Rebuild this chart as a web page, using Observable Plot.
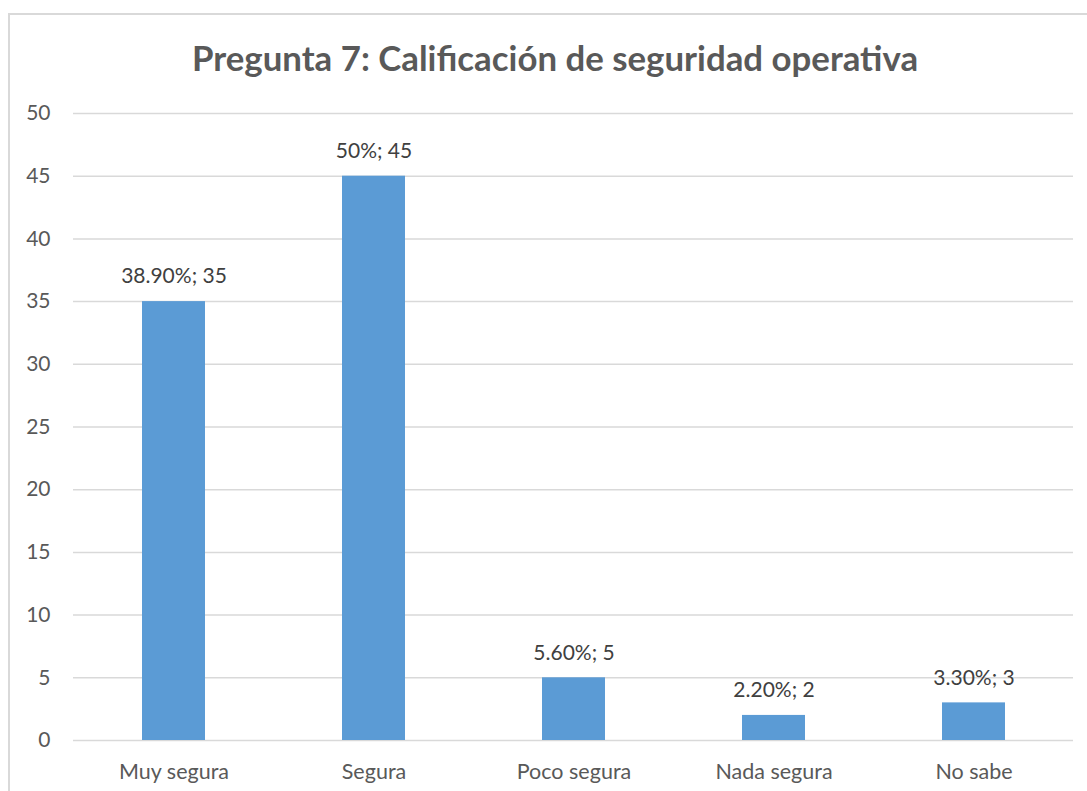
<!DOCTYPE html>
<html><head><meta charset="utf-8">
<script src="https://cdn.jsdelivr.net/npm/d3@7"></script>
<script src="https://cdn.jsdelivr.net/npm/@observablehq/plot@0.6"></script>
<style>
html,body{margin:0;padding:0;background:#fff;font-family:Lato,"Open Sans",sans-serif;}
#frame{position:absolute;left:8px;top:13px;width:1100px;height:800px;border-left:2px solid #d9d9d9;border-top:2px solid #d9d9d9;box-sizing:border-box;}
#title{position:absolute;left:0;top:38px;width:1110px;text-align:center;font-weight:bold;color:#595959;line-height:40px;white-space:nowrap;}
#chart{position:absolute;left:0;top:90px;}
</style>
</head><body>
<div id="frame"></div>
<div id="title">Pregunta 7: Calificación de seguridad operativa</div>
<div id="chart"></div>
<script>
const categories = ["Muy segura", "Segura", "Poco segura", "Nada segura", "No sabe"];
const counts = [35, 45, 5, 2, 3];
const percents = ["38.90%", "50%", "5.60%", "2.20%", "3.30%"];
const yTicks = [0, 5, 10, 15, 20, 25, 30, 35, 40, 45, 50];
const titleText = "Pregunta 7: Calificación de seguridad operativa";

const data = categories.map((c, i) => ({cat: c, n: counts[i], label: `${percents[i]}; ${counts[i]}`}));

// fit title width
const cv = document.createElement("canvas").getContext("2d");
cv.font = "bold 100px Lato";
const tw = cv.measureText(titleText).width;
const tsize = 100 * 726 / tw;
const titleEl = document.getElementById("title");
titleEl.style.fontSize = tsize.toFixed(1) + "px";

const chart = Plot.plot({
  width: 1087, height: 701,
  marginTop: 23, marginBottom: 51, marginLeft: 73, marginRight: 14,
  style: {fontFamily: "Lato, sans-serif", fontSize: "21px", color: "#595959", background: "transparent"},
  x: {domain: categories, paddingInner: 0.685, paddingOuter: 0.3425, label: null},
  y: {domain: [0, 50], ticks: yTicks, label: null},
  marks: [
    Plot.gridY(yTicks, {stroke: "#d9d9d9", strokeOpacity: 1, strokeWidth: 1.5}),
    Plot.axisY(yTicks, {tickSize: 0, tickPadding: 23, label: null, fontSize: 21, fill: "#595959"}),
    Plot.axisX({tickSize: 0, tickPadding: 23, label: null, fontSize: 21.5, fill: "#595959"}),
    Plot.barY(data, {x: "cat", y: "n", fill: "#5B9BD5"}),
    Plot.text(data, {x: "cat", y: "n", text: "label", dy: -25, fill: "#404040", fontSize: 21})
  ]
});
document.getElementById("chart").appendChild(chart);
</script>
</body></html>
